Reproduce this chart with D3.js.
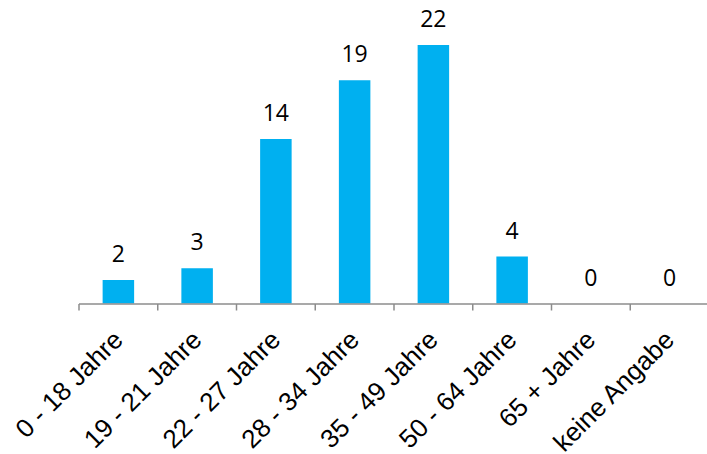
<!DOCTYPE html>
<html>
<head>
<meta charset="utf-8">
<script src="https://cdn.jsdelivr.net/npm/d3@7"></script>
<style>
  html, body { margin: 0; padding: 0; background: #fff; }
  svg { display: block; }
</style>
</head>
<body>
<svg id="chart" width="707" height="454"></svg>
<script>
const categories = ["0 - 18 Jahre", "19 - 21 Jahre", "22 - 27 Jahre", "28 - 34 Jahre", "35 - 49 Jahre", "50 - 64 Jahre", "65 + Jahre", "keine Angabe"];
const values = [2, 3, 14, 19, 22, 4, 0, 0];
const yDomain = [0, 25];

const svg = d3.select("#chart");
const left = 79, right = 709, baseY = 303.5, topY = 9.75;

const xCat = d3.scaleBand().domain(categories).range([left, right]).padding(0);
const xBar = d3.scaleBand().domain(categories).range([left, right]).paddingInner(0.6).paddingOuter(0.3);
const y = d3.scaleLinear().domain(yDomain).range([baseY, topY]);

const data = categories.map((c, i) => ({ c, v: values[i] }));

// bars
svg.append("g").selectAll("rect").data(data).join("rect")
  .attr("x", d => xBar(d.c))
  .attr("width", xBar.bandwidth())
  .attr("y", d => y(d.v))
  .attr("height", d => y(0) - y(d.v))
  .attr("fill", "#00B0F0");

// axis line + ticks
const axisColor = "#8c8c8c";
svg.append("line")
  .attr("x1", left).attr("x2", right)
  .attr("y1", baseY + 0.5).attr("y2", baseY + 0.5)
  .attr("stroke", axisColor).attr("stroke-width", 1.5);
const tickXs = categories.map(c => xCat(c)).concat([right]);
svg.append("g").selectAll("line").data(tickXs).join("line")
  .attr("x1", d => d).attr("x2", d => d)
  .attr("y1", baseY + 0.5).attr("y2", baseY + 7)
  .attr("stroke", axisColor).attr("stroke-width", 1.5);

// category labels
svg.append("g").selectAll("text").data(categories).join("text")
  .attr("transform", d => `translate(${xCat(d) + xCat.bandwidth() / 2 + 6},${baseY + 38}) rotate(-45)`)
  .attr("text-anchor", "end")
  .style("font-family", "'Liberation Sans', Arial, Helvetica, sans-serif")
  .style("font-size", "26px")
  .attr("fill", "#000")
  .text(d => d);

// value labels
svg.append("g").selectAll("text").data(data).join("text")
  .attr("x", d => xCat(d.c) + xCat.bandwidth() / 2)
  .attr("y", d => y(d.v) - 18)
  .attr("text-anchor", "middle")
  .style("font-family", "'Open Sans', 'Noto Sans', sans-serif")
  .style("font-size", "23px")
  .attr("fill", "#000")
  .text(d => d.v);
</script>
</body>
</html>
